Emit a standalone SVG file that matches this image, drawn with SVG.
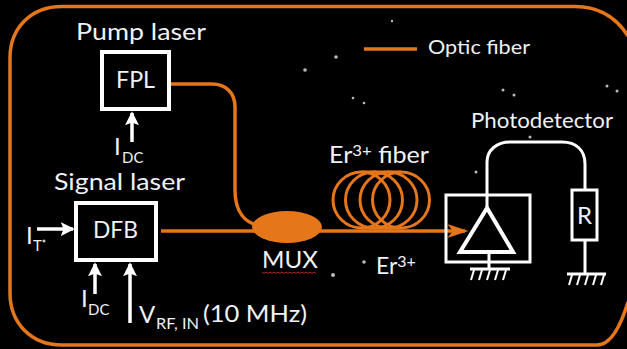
<svg xmlns="http://www.w3.org/2000/svg" width="627" height="349" viewBox="0 0 627 349">
<defs>
<style>
text{font-family:"Lato","Open Sans","Liberation Sans",sans-serif;fill:#eef2f5}
.l{font-size:24px}
.s{font-size:15px}
.w{fill:none;stroke:#fff;stroke-width:3}
.b{fill:none;stroke:#fff;stroke-width:4}
.o{fill:none;stroke:#e5761a;stroke-width:3.5}
.c{fill:none;stroke:#e5761a;stroke-width:3}
.h{fill:none;stroke:#fff;stroke-width:2}
.star{fill:#bbb}
</style>
<marker id="wa" markerWidth="4" markerHeight="4" refX="3.500" refY="2" orient="auto" markerUnits="strokeWidth"><path d="M0,0 L4,2 L0,4 L0.800,2 Z" fill="#fff"/></marker>
<marker id="oa" markerWidth="6" markerHeight="4" refX="5" refY="2" orient="auto" markerUnits="strokeWidth"><path d="M0,0 L6,2 L0,4 L1.500,2 Z" fill="#e5761a"/></marker>
</defs>
<rect width="627" height="349" fill="#000"/>
<path class="o" d="M628,36 C616,17 598,6.500 575,6.500 H62 C31,6.500 10,28 10,58 V293 C10,323 31,345 62,345 H597 C611,345 621,325 628,302"/>
<g id="stars">
<circle class="star" cx="305" cy="70" r="1.800"/><circle class="star" cx="336" cy="57" r="1.800"/>
<circle class="star" cx="392" cy="21" r="1.200"/><circle class="star" cx="353" cy="98" r="1.300"/>
<circle class="star" cx="503" cy="90" r="1.500"/><circle class="star" cx="514" cy="95" r="1.500"/>
<circle class="star" cx="607" cy="86" r="1.500"/><circle class="star" cx="617" cy="91" r="1.500"/>
<circle class="star" cx="364" cy="103" r="1.300"/><circle class="star" cx="476" cy="172" r="1.500"/>
<circle class="star" cx="530" cy="137" r="1.500"/><circle class="star" cx="364" cy="262" r="1.800"/>
<circle class="star" cx="333" cy="275" r="2"/>
</g>
<g id="connectors">
<path class="o" d="M171,84 H212 C226,84 235,93 235,107 V190 C235,212 245,224 262,226"/>
<path class="o" d="M161,231 H262"/>
<path d="M315,231 H465" fill="none" stroke="#e5761a" stroke-width="3.500" marker-end="url(#oa)"/>
<path class="o" d="M364,49 H417"/>
<path class="w" marker-end="url(#wa)" d="M132,142 V113" style="stroke-width:3.500"/>
<path class="w" marker-end="url(#wa)" d="M37,229 H73" style="stroke-width:3.500"/>
<path class="w" marker-end="url(#wa)" d="M95,294 V264" style="stroke-width:3.500"/>
<path class="w" marker-end="url(#wa)" d="M130,323 V264" style="stroke-width:3.500"/>
<path class="w" d="M487,207 V162 C487,150 497,142 510,142 H562 C576,142 585,150 585,164 V189"/>
<path class="w" d="M585,241 V273"/>
<path class="w" d="M489,252 V268"/>
</g>
<g id="pump-laser">
<rect class="b" x="102" y="52" width="67" height="57"/>
<text class="l" x="76" y="40" textLength="130" lengthAdjust="spacingAndGlyphs">Pump laser</text>
<text class="l" x="116" y="88" textLength="39" lengthAdjust="spacingAndGlyphs">FPL</text>
<text class="l" x="114" y="155">I</text><text class="s" x="122" y="163">DC</text>
</g>
<g id="signal-laser">
<rect class="b" x="76" y="203" width="80" height="57"/>
<text class="l" x="54" y="190" textLength="131" lengthAdjust="spacingAndGlyphs">Signal laser</text>
<text class="l" x="93" y="238" textLength="45" lengthAdjust="spacingAndGlyphs">DFB</text>
<text class="l" x="26" y="244">I</text><text class="s" x="33" y="251">T</text><circle cx="44" cy="241" r="1.500" fill="#ccc"/>
<text class="l" x="81" y="307">I</text><text class="s" x="88" y="315">DC</text>
<text class="l" x="139" y="323">V</text><text class="s" x="156" y="329" textLength="43" lengthAdjust="spacingAndGlyphs">RF, IN</text>
<text class="l" x="203" y="322" textLength="104" lengthAdjust="spacingAndGlyphs">(10 MHz)</text>
</g>
<g id="mux">
<ellipse cx="287" cy="227" rx="35" ry="16" fill="#e5761a"/>
<text class="l" x="262" y="268" textLength="56" lengthAdjust="spacingAndGlyphs">MUX</text>
<path d="M262,272 l2,1.500 l2,-1.500 l2,1.500 l2,-1.500 l2,1.500 l2,-1.500 l2,1.500 l2,-1.500 l2,1.500 l2,-1.500 l2,1.500 l2,-1.500 l2,1.500 l2,-1.500 l2,1.500 l2,-1.500 l2,1.500 l2,-1.500 l2,1.500 l2,-1.500 l2,1.500 l2,-1.500 l2,1.500 l2,-1.500 l2,1.500 l2,-1.500 l2,1.500" fill="none" stroke="#b02a30" stroke-width="1"/>
</g>
<g id="er-fiber">
<ellipse class="c" cx="361.500" cy="200" rx="28.500" ry="28"/>
<ellipse class="c" cx="374" cy="200" rx="28.500" ry="28"/>
<ellipse class="c" cx="388.500" cy="200" rx="28.500" ry="28"/>
<ellipse class="c" cx="401" cy="200" rx="28.500" ry="28"/>
<path class="c" d="M361,172 H401 M361,228 H401"/>
<text class="l" x="329" y="163" textLength="100" lengthAdjust="spacingAndGlyphs">Er<tspan font-size="16" dy="-7">3+</tspan><tspan dy="7"> fiber</tspan></text>
</g>
<g id="er-ion">
<text x="376" y="274" style="font-size:23px">Er<tspan font-size="16" dy="-7">3+</tspan></text>
</g>
<g id="legend">
<text x="428" y="54" textLength="102" lengthAdjust="spacingAndGlyphs" style="font-size:20px">Optic fiber</text>
</g>
<g id="photodetector">
<rect class="w" x="446" y="195" width="84" height="67"/>
<path class="b" d="M487,208 L460,252 H513 Z"/>
<path class="w" d="M470,269 H510"/>
<path class="h" d="M474,270 l-3,10 M482,270 l-3,10 M490,270 l-3,10 M498,270 l-3,10 M506,270 l-3,10"/>
<text x="471" y="128" textLength="142" lengthAdjust="spacingAndGlyphs" style="font-size:21px">Photodetector</text>
</g>
<g id="resistor">
<rect class="w" x="572" y="190" width="25" height="50"/>
<text class="l" x="577" y="224">R</text>
<path class="w" d="M567,274 H606"/>
<path class="h" d="M572,275 l-3,10 M580,275 l-3,10 M588,275 l-3,10 M596,275 l-3,10 M604,275 l-3,10"/>
</g>
</svg>
